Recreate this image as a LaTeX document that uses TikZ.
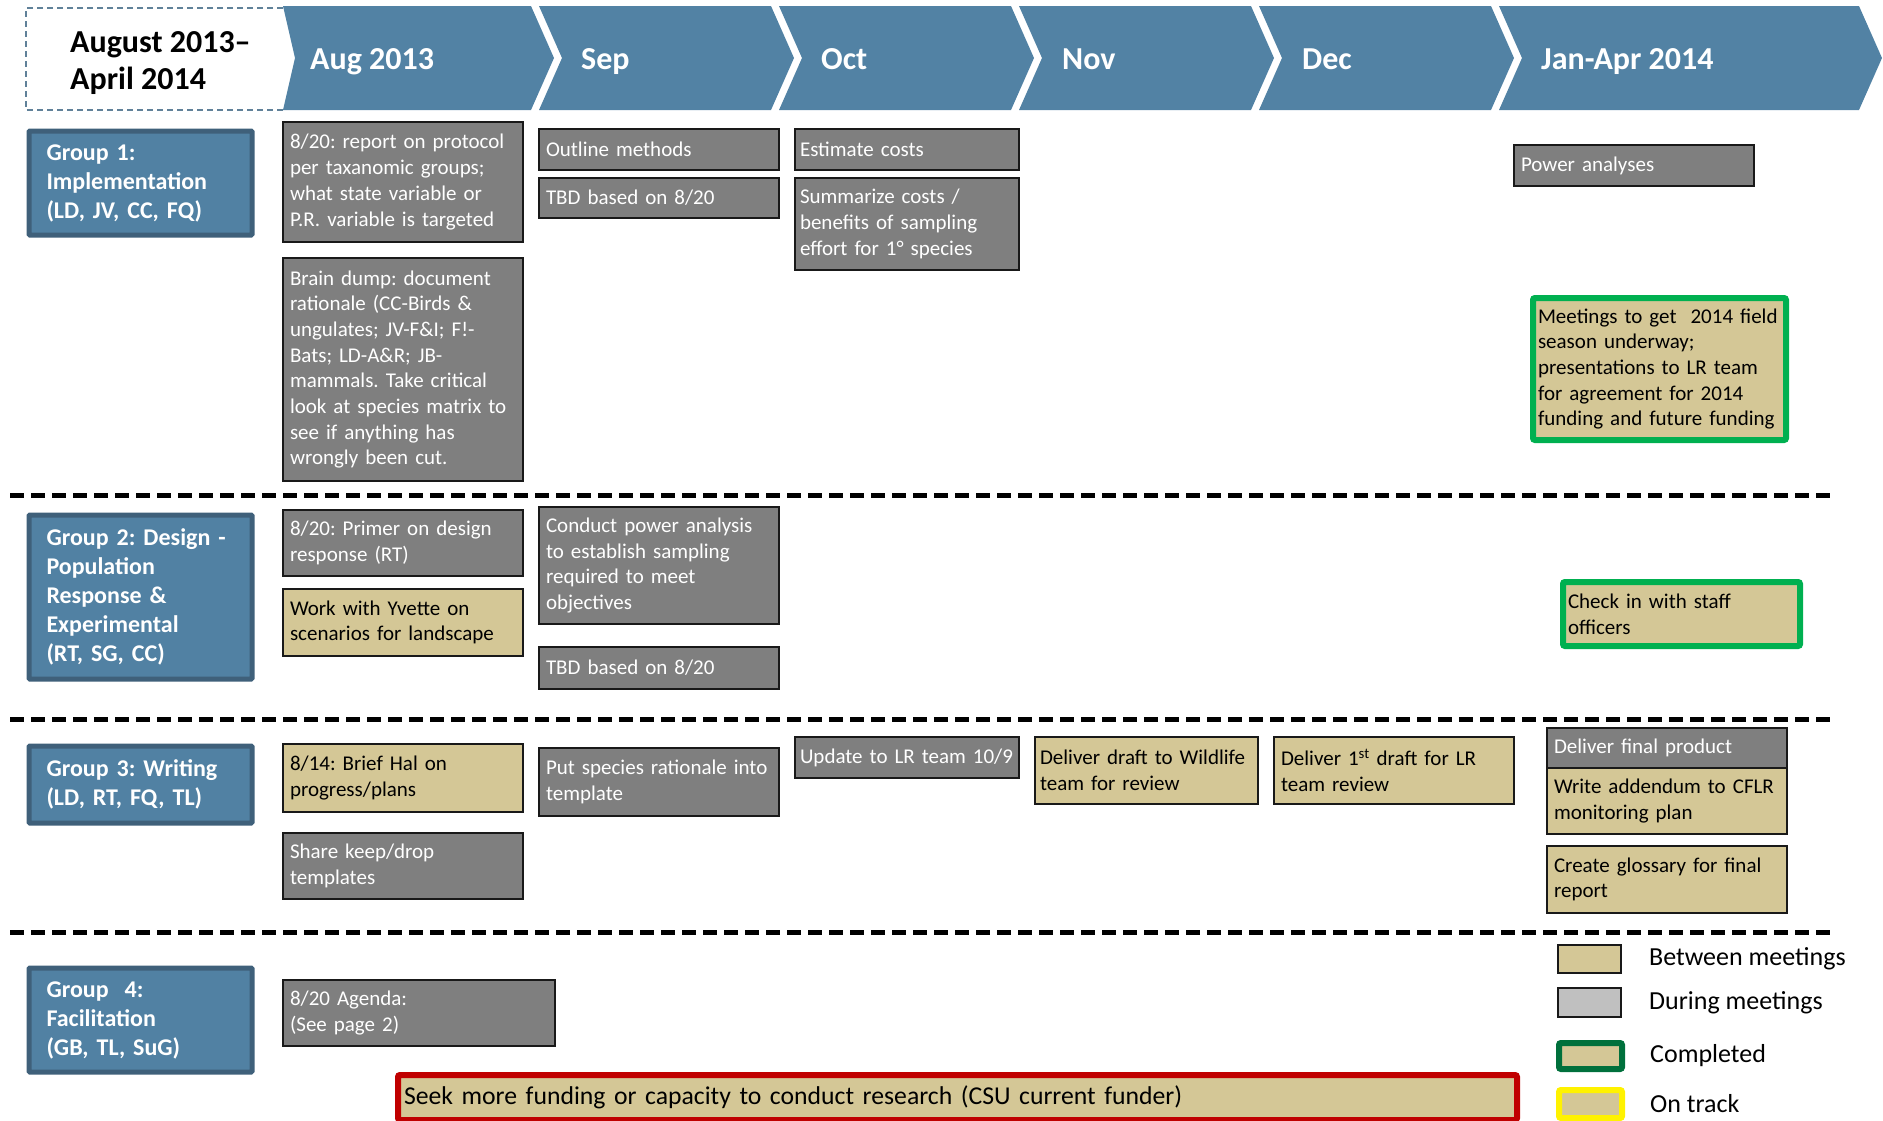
\documentclass[tikz,border=0pt]{standalone}
\usepackage{fontspec}
\setmainfont{Carlito}
\frenchspacing
\usetikzlibrary{positioning}

\definecolor{hdrblue}{HTML}{5282A4}
\definecolor{grpblue}{HTML}{5181A3}
\definecolor{grpedge}{HTML}{3F607A}
\definecolor{taskgray}{HTML}{7F7F7F}
\definecolor{tanfill}{HTML}{D4C796}
\definecolor{donegreen}{HTML}{00B050}
\definecolor{keygreen}{HTML}{00703C}
\definecolor{fundred}{HTML}{C00000}
\definecolor{meetgray}{HTML}{C0C0C0}

\begin{document}
\begin{tikzpicture}[x=1pt,y=-1pt,
  task/.style={draw=black!90,line width=2pt,fill=taskgray,text=white,
    anchor=north west,align=left,inner xsep=7pt,inner ysep=0pt,
    minimum width=240pt,text width=226pt,
    font=\fontsize{21}{25.7}\selectfont},
  todo/.style={task,fill=tanfill,text=black},
  done/.style={todo,draw=donegreen,line width=6pt,rounded corners=2pt},
  grp/.style={draw=grpedge,line width=5pt,fill=grpblue,text=white,
    anchor=north west,align=left,inner xsep=17.5pt,inner ysep=0pt,
    minimum width=223pt,text width=188pt,rounded corners=1pt,
    font=\fontsize{24}{29}\bfseries\selectfont},
  month/.style={anchor=base west,inner sep=0pt,text=white,
    font=\fontsize{32}{37}\bfseries\selectfont},
  swatch/.style={draw=black!90,line width=2pt,anchor=north west,outer sep=0pt,
    minimum width=63pt,minimum height=28pt,inner sep=0pt},
  key/.style={anchor=west,inner sep=0pt,font=\fontsize{26}{31}\selectfont},
  sep/.style={line width=5pt,dash pattern=on 14pt off 7pt}]
\useasboundingbox (0,0) rectangle (1883,1120);

% timeline band
\draw[hdrblue!70!gray,line width=1.5pt,dash pattern=on 6pt off 4pt]
  (283,8) -- (26,8) -- (26,110) -- (283,110);
\fill[hdrblue] (283,6) -- (531,6) -- (554,58) -- (531,110) -- (283,110) -- (295,58) -- cycle;
\foreach \L in {539,779,1019,1259}
  \fill[hdrblue] (\L,6) -- (\L+232,6) -- (\L+255,58) -- (\L+232,110) -- (\L,110) -- (\L+23,58) -- cycle;
\fill[hdrblue] (1499,6) -- (1859,6) -- (1882,58) -- (1859,110) -- (1499,110) -- (1522,58) -- cycle;

\node[anchor=west,align=left,inner sep=0pt,font=\fontsize{32}{37}\bfseries\selectfont]
  (span) at (70,63) {August 2013--\\April 2014};
\node[month] (aug) at (310,69) {Aug 2013};
\node[month] (sep) at (581,69) {Sep};
\node[month] (oct) at (821,69) {Oct};
\node[month] (nov) at (1062,69) {Nov};
\node[month] (dec) at (1302,69) {Dec};
\node[month] (jan) at (1541,69) {Jan-Apr 2014};

% row separators
\draw[sep] (10,495) -- (1834,495);
\draw[sep] (10,719) -- (1834,719);
\draw[sep] (10,932) -- (1834,932);

% groups
\node[grp,minimum height=104pt] (g1) at (26.5,128.5) {Group 1:\\Implementation\\(LD, JV, CC, FQ)};
\node[grp,minimum height=164pt] (g2) at (26.5,512.5) {Group 2: Design -\\Population\\Response \&\\Experimental\\(RT, SG, CC)};
\node[grp,minimum height=77pt] (g3) at (26.5,743.5) {Group 3: Writing\\(LD, RT, FQ, TL)};
\node[grp,minimum height=104pt] (g4) at (26.5,965.5) {Group\ \ 4:\\Facilitation\\(GB, TL, SuG)};

% group 1
\node[task,minimum height=120pt] (report) at (282,121) {8/20: report on protocol\\per taxanomic groups;\\what state variable or\\P.R. variable is targeted};
\node[task,minimum height=223pt] (brain) at (282,257) {Brain dump: document\\rationale (CC-Birds \&\\ungulates; JV-F\&I; F!-\\Bats; LD-A\&R; JB-\\mammals. Take critical\\look at species matrix to\\see if anything has\\wrongly been cut.};
\node[task,minimum height=41pt] (outline) at (538,128) {Outline methods};
\node[task,minimum height=40pt] (tbdone) at (538,177) {TBD based on 8/20};
\node[task,minimum width=224pt,inner xsep=5pt,text width=214pt,minimum height=41pt] (estimate) at (794,128) {Estimate costs};
\node[task,minimum width=224pt,inner xsep=5pt,text width=214pt,minimum height=92pt] (summarize) at (794,177) {Summarize costs /\\benefits of sampling\\effort for 1° species};
\node[task,minimum height=41pt] (power) at (1513,144) {Power analyses};
\node[done,minimum width=253pt,inner xsep=5pt,text width=243pt,minimum height=142pt] (meetings) at (1530,295) {Meetings to get\ \ 2014 field\\season underway;\\presentations to LR team\\for agreement for 2014\\funding and future funding};

% group 2
\node[task,minimum height=66pt] (primer) at (282,509) {8/20: Primer on design\\response (RT)};
\node[todo,minimum height=67pt] (yvette) at (282,588) {Work with Yvette on\\scenarios for landscape};
\node[task,minimum height=117pt] (conduct) at (538,506) {Conduct power analysis\\to establish sampling\\required to meet\\objectives};
\node[task,minimum height=42pt] (tbdtwo) at (538,646) {TBD based on 8/20};
\node[done,minimum width=237pt,inner xsep=5pt,text width=227pt,minimum height=64pt] (checkin) at (1560,579) {Check in with staff\\officers};

% group 3
\node[todo,minimum height=68pt] (brief) at (282,743) {8/14: Brief Hal on\\progress/plans};
\node[task,minimum height=66pt] (share) at (282,832) {Share keep/drop\\templates};
\node[task,minimum height=68pt] (putsp) at (538,747) {Put species rationale into\\template};
\node[task,minimum width=224pt,inner xsep=5pt,text width=214pt,minimum height=41pt] (update) at (794,736) {Update to LR team 10/9};
\node[todo,minimum width=223pt,inner xsep=5pt,text width=213pt,minimum height=67pt] (wildlife) at (1034,736) {Deliver draft to Wildlife\\team for review};
\node[todo,minimum height=67pt] (firstdraft) at (1273,736) {Deliver 1\textsuperscript{st} draft for LR\\team review};
\node[task,minimum height=40pt] (final) at (1546,727) {Deliver final product};
\node[todo,minimum height=66pt] (addendum) at (1546,767) {Write addendum to CFLR\\monitoring plan};
\node[todo,minimum height=67pt] (glossary) at (1546,845) {Create glossary for final\\report};

% group 4
\node[task,minimum width=272pt,text width=258pt,minimum height=66pt] (agenda) at (282,979) {8/20 Agenda:\\(See page 2)};
\node[done,draw=fundred,minimum width=1119pt,text width=1107pt,minimum height=45pt,inner xsep=6pt,
  font=\fontsize{25.7}{31}\selectfont] (fund) at (395,1072) {Seek more funding or capacity to conduct research (CSU current funder)};

% legend
\node[swatch,fill=tanfill] (kbetween) at (1558,945) {};
\node[swatch,fill=meetgray,minimum height=29pt] (kduring) at (1558,988) {};
\node[swatch,draw=keygreen,line width=6pt,fill=tanfill,rounded corners=2pt,minimum height=26pt] (kdone) at (1559,1043) {};
\node[swatch,draw=yellow,line width=6pt,fill=tanfill,rounded corners=2pt,minimum height=28pt] (ktrack) at (1559,1090) {};
\node[key,right=28pt of kbetween] (lbetween) {Between meetings};
\node[key,right=28pt of kduring] (lduring) {During meetings};
\node[key,right=28pt of kdone] (ldone) {Completed};
\node[key,right=28pt of ktrack] (ltrack) {On track};
\end{tikzpicture}
\end{document}
